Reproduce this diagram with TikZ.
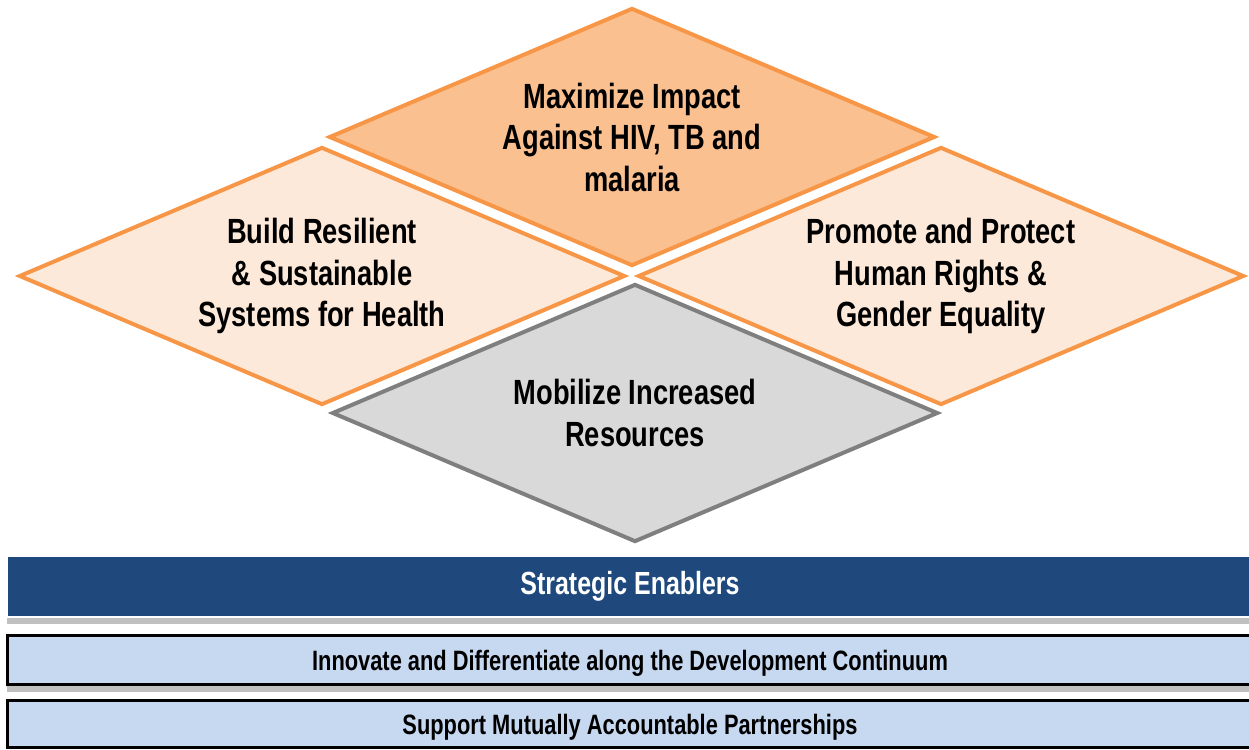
\documentclass[tikz,border=0pt]{standalone}
\usepackage{fontspec}
\usepackage{xcolor}
\usepackage{tikz}
\usetikzlibrary{shapes.geometric,shadows,positioning}

\newfontfamily\narrowfont[FakeStretch=0.78]{Liberation Sans}
\definecolor{goalline}{HTML}{F79646}
\definecolor{goaldark}{HTML}{FAC090}
\definecolor{goallight}{HTML}{FDE9D9}
\definecolor{resfill}{HTML}{D9D9D9}
\definecolor{resline}{HTML}{7F7F7F}
\definecolor{enabdark}{HTML}{1F497D}
\definecolor{enablight}{HTML}{C6D9F1}

\tikzset{
  goal/.style={diamond, aspect=2.35, minimum width=606pt, minimum height=258pt,
    inner sep=0pt, line width=4pt, draw=goalline, fill=goallight, align=center,
    font=\narrowfont\bfseries\fontsize{35}{41.5}\selectfont},
  bar/.style={rectangle, minimum width=1246pt, inner sep=0pt, outer sep=0pt, text depth=0pt,
    font=\narrowfont\bfseries\fontsize{28}{32}\selectfont},
  barshadow/.style={drop shadow={shadow xshift=0pt, shadow yshift=-7pt, fill=black!45, opacity=.55}}
}

\begin{document}
\begin{tikzpicture}[x=1pt, y=-1pt]
  \useasboundingbox (0,0) rectangle (1249,749);
  % strategic objectives
  \node[goal, fill=goaldark] (impact) at (632,137) {Maximize Impact\\Against HIV, TB and\\malaria}; %
  \node[goal] (systems) at (322,276) {Build Resilient\\\& Sustainable\\Systems for Health}; %
  \node[goal] (rights) at (941,276) {Promote and Protect\\Human Rights \&\\Gender Equality}; %
  \node[goal, draw=resline, fill=resfill] (resources) at (635,413) {Mobilize Increased\\Resources}; %
  % enablers
  \node[bar, barshadow, minimum height=61pt, fill=enabdark, draw=white, line width=1.5pt, text=white, text depth={},
    font=\narrowfont\bfseries\fontsize{32}{36}\selectfont] (enablers) at (630,586.5) {Strategic Enablers};
  \node[bar, barshadow, minimum height=49pt, fill=enablight, draw=black, line width=3pt, below=18.5pt of enablers] (innovate) {Innovate and Differentiate along the Development Continuum};
  \node[bar, minimum height=47pt, fill=enablight, draw=black, line width=3pt, below=16pt of innovate] (partners) {Support Mutually Accountable Partnerships};
\end{tikzpicture}
\end{document}
